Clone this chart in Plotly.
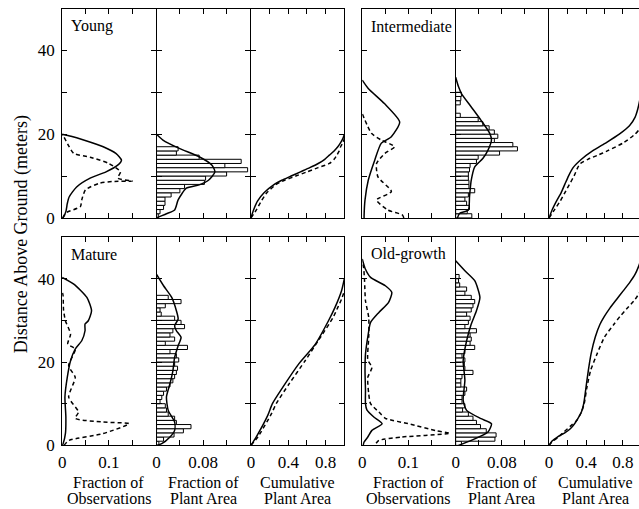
import plotly.graph_objects as go

# ---------------- DATA ----------------
# Young stand
young_obs_solid_h = [0, 0.3, 1.5, 3.4, 5, 7.4, 9.5, 11, 12.6, 13.8, 15.4, 17, 18.6, 19.5, 20]
young_obs_solid = [0, 0.003, 0.008, 0.011, 0.015, 0.031, 0.06, 0.094, 0.119, 0.127, 0.115, 0.088, 0.046, 0.019, 0]
young_obs_dash_h = [0, 1.2, 2.7, 4.3, 6.7, 8.3, 8.7, 8.8, 9.5, 11, 13, 14.5, 15.4, 17, 19.3, 20]
young_obs_dash = [0.002, 0.008, 0.039, 0.042, 0.05, 0.08, 0.108, 0.15, 0.119, 0.125, 0.1, 0.06, 0.025, 0.015, 0.004, 0]
young_area_bins = [0.003, 0.006, 0.012, 0.0145, 0.0145, 0.025, 0.04, 0.048, 0.082, 0.084, 0.12, 0.156, 0.117, 0.145, 0.073, 0.034, 0.037]
young_area_curve_h = [0, 0.2, 1.0, 1.9, 4.3, 7.1, 7.9, 9, 11, 12.6, 14.6, 16.6, 18.6, 20]
young_area_curve = [0, 0.003, 0.017, 0.031, 0.037, 0.051, 0.073, 0.089, 0.1, 0.095, 0.073, 0.039, 0.011, 0]
young_cum_solid_h = [0, 2, 4, 6, 8, 9, 10, 11, 12, 13, 14, 15, 16, 17, 18, 19, 20]
young_cum_solid = [0, 0.03, 0.07, 0.14, 0.25, 0.33, 0.43, 0.53, 0.63, 0.72, 0.79, 0.84, 0.89, 0.93, 0.96, 0.985, 1.0]
young_cum_dash_h = [0, 2, 4, 6, 8, 9, 10, 11, 12, 13, 14, 15, 16, 17, 18, 19]
young_cum_dash = [0, 0.06, 0.11, 0.17, 0.27, 0.36, 0.48, 0.6, 0.72, 0.84, 0.89, 0.92, 0.945, 0.96, 0.985, 1.0]

# Intermediate stand
inter_obs_solid_h = [0, 0.5, 4.3, 9, 13.8, 17.8, 19.4, 22.9, 27.3, 30.9, 32.9]
inter_obs_solid = [0.004, 0.004, 0.006, 0.013, 0.027, 0.041, 0.063, 0.081, 0.048, 0.013, 0]
inter_obs_dash_h = [0, 0.7, 1.9, 4.3, 6.3, 9.8, 13, 15.4, 17, 18.6, 20.2, 24.9]
inter_obs_dash = [0.09, 0.087, 0.055, 0.031, 0.063, 0.034, 0.031, 0.049, 0.07, 0.041, 0.02, 0]
inter_area_bins = [0.028, 0.02, 0.024, 0.019, 0.016, 0.022, 0.033, 0.023, 0.023, 0.022,
                   0.022, 0.024, 0.025, 0.036, 0.039, 0.076, 0.107, 0.099, 0.067, 0.073,
                   0.067, 0.058, 0.047, 0.039, 0.008, 0, 0, 0.008, 0.009, 0.01]
inter_area_curve_h = [0, 1.1, 1.9, 5.1, 9, 12.2, 14.2, 16.2, 18.6, 20.2, 23.3, 26.5, 29.7, 31.3, 33.6]
inter_area_curve = [0.003, 0.007, 0.022, 0.024, 0.027, 0.033, 0.047, 0.056, 0.062, 0.059, 0.044, 0.027, 0.01, 0.005, 0]
inter_cum_solid_h = [0, 2, 4, 6, 8, 10, 12, 14, 16, 18, 20, 22, 24, 26, 28, 30, 33]
inter_cum_solid = [0, 0.035, 0.08, 0.13, 0.17, 0.21, 0.26, 0.35, 0.47, 0.62, 0.76, 0.87, 0.93, 0.96, 0.98, 0.995, 1.0]
inter_cum_dash_h = [0, 2, 4, 6, 8, 10, 12, 13, 14, 15, 16, 18, 20, 21, 22, 24]
inter_cum_dash = [0, 0.06, 0.12, 0.17, 0.22, 0.27, 0.31, 0.34, 0.42, 0.53, 0.63, 0.81, 0.93, 0.97, 0.99, 1.0]

# Mature stand
mature_obs_solid_h = [0, 0.4, 2.8, 6.8, 11.6, 16.3, 20.3, 23.1, 25.1, 27.5, 29.1, 29.9, 32.3, 35.5, 38.7, 40.3]
mature_obs_solid = [0, 0.002, 0.007, 0.008, 0.006, 0.011, 0.018, 0.028, 0.042, 0.049, 0.049, 0.056, 0.063, 0.053, 0.025, 0]
mature_obs_dash_h = [0, 1.2, 2.8, 5.2, 5.6, 6.5, 8, 11.6, 16.3, 19.1, 23.1, 24.3, 26.7, 29.9, 32.5, 35.9, 37]
mature_obs_dash = [0.004, 0.015, 0.087, 0.143, 0.087, 0.028, 0.035, 0.014, 0.028, 0.014, 0.028, 0.012, 0.018, 0.007, 0.003, 0.002, 0]
mature_area_bins = [0.004, 0.012, 0.03, 0.046, 0.059, 0.034, 0.031, 0.02, 0.017, 0.015,
                    0.006, 0.009, 0.012, 0.017, 0.023, 0.028, 0.031, 0.034, 0.036, 0.031,
                    0.038, 0.034, 0.023, 0.053, 0.015, 0.031, 0.023, 0.028, 0.048, 0.042,
                    0.031, 0.008, 0.006, 0.015, 0.042, 0.02]
mature_area_curve_h = [0, 0.4, 2, 3.6, 5.6, 8.4, 11.6, 14.8, 17.9, 21.1, 23.9, 25.9, 27.5, 28.7, 30.3, 32.3, 35.5, 38.3, 41]
mature_area_curve = [0, 0.009, 0.023, 0.031, 0.031, 0.02, 0.017, 0.023, 0.028, 0.031, 0.037, 0.042, 0.034, 0.031, 0.037, 0.034, 0.026, 0.012, 0]
mature_cum_solid_h = [0, 2, 7.2, 10, 13.9, 19.5, 24.3, 29.9, 33.1, 37.1, 40]
mature_cum_solid = [0, 0.056, 0.18, 0.23, 0.34, 0.51, 0.69, 0.83, 0.9, 0.97, 1.0]
mature_cum_dash_h = [0, 2, 7.6, 10, 14.8, 20.3, 25.1, 30.7, 33.1, 35.1, 37]
mature_cum_dash = [0, 0.074, 0.22, 0.27, 0.41, 0.58, 0.72, 0.88, 0.93, 0.97, 1.0]

# Old-growth stand
old_obs_solid_h = [0, 0.8, 2, 3.6, 5.2, 6.8, 8.5, 10, 13.2, 17.9, 21.9, 26.7, 29.5, 31.9, 34.3, 36.7, 38.3, 40.3, 42.5, 44.7]
old_obs_solid = [0.002, 0.004, 0.012, 0.021, 0.043, 0.025, 0.01, 0.007, 0.007, 0.006, 0.007, 0.013, 0.018, 0.036, 0.057, 0.064, 0.05, 0.018, 0.006, 0]
old_obs_dash_h = [0.5, 1.2, 2, 2.9, 3.5, 5.2, 6.5, 8, 10, 12.4, 16.3, 18.7, 20.5, 25.9, 30.7, 34.7, 39.5, 42.6, 44]
old_obs_dash = [0.03, 0.036, 0.085, 0.19, 0.16, 0.1, 0.05, 0.036, 0.018, 0.014, 0.012, 0.021, 0.012, 0.014, 0.014, 0.007, 0.005, 0.003, 0]
old_area_bins = [0.01, 0.068, 0.07, 0.053, 0.043, 0.036, 0.03, 0.022, 0.012, 0.016,
                 0.011, 0.011, 0.016, 0.019, 0.009, 0.009, 0.011, 0.03, 0.016, 0.015,
                 0.016, 0.011, 0.016, 0.033, 0.025, 0.027, 0.025, 0.036, 0.016, 0.022,
                 0.025, 0.019, 0.027, 0.03, 0.033, 0.027, 0.016, 0.019, 0.007, 0.005, 0.006]
old_area_curve_h = [0, 1.2, 3.2, 5.2, 6.4, 8.4, 10.8, 15.6, 20.3, 25.1, 29.1, 32.3, 35.5, 39.5, 41.9, 44.3]
old_area_curve = [0.005, 0.027, 0.056, 0.062, 0.044, 0.019, 0.013, 0.016, 0.013, 0.019, 0.027, 0.036, 0.042, 0.033, 0.016, 0]
old_cum_solid_h = [0, 1, 2, 3, 4, 5, 6, 8, 10, 14, 18, 22, 26, 29, 31, 33, 35, 37, 39, 41, 43, 45]
old_cum_solid = [0, 0.03, 0.09, 0.17, 0.23, 0.27, 0.3, 0.35, 0.375, 0.4, 0.425, 0.455, 0.5, 0.55, 0.6, 0.66, 0.73, 0.8, 0.87, 0.93, 0.97, 1.0]
old_cum_dash_h = [0, 1, 2, 3, 4, 5, 6, 8, 10, 14, 18, 22, 26, 29, 31, 33, 35, 37]
old_cum_dash = [0, 0.04, 0.1, 0.15, 0.2, 0.25, 0.3, 0.35, 0.38, 0.41, 0.45, 0.52, 0.6, 0.7, 0.77, 0.85, 0.93, 0.99]

stand_labels = ["Young", "Intermediate", "Mature", "Old-growth"]

obs_tickvals = [0, 0.05, 0.1, 0.15]
obs_ticktext = ["0", "", "0.1", ""]
area_tickvals = [0, 0.04, 0.08, 0.12]
area_ticktext = ["0", "", "0.08", ""]
cum_tickvals = [0, 0.2, 0.4, 0.6, 0.8]
cum_ticktext = ["0", "", "0.4", "", "0.8"]
height_tickvals = [0, 10, 20, 30, 40]
height_ticktext = ["0", "", "20", "", "40"]

x_titles = [("Fraction of", "Observations"), ("Fraction of", "Plant Area"), ("Cumulative", "Plant Area")]
y_title = "Distance Above Ground (meters)"

# ---------------- LAYOUT ----------------
W, H = 639, 509          # reference picture size
FIG_H = 520              # captured page height (picture is resized to 509)
FONT = "Liberation Serif, Times New Roman, serif"

group_x = [[58, 153, 248, 343], [360, 454, 548, 642]]
row_y = [(8, 218), (236, 445)]
base_ranges = [0.2, 0.16, 1.0]


def px_x(v):
    return v / W


def px_y(v):
    return 1 - v / H


stands = [
    (young_obs_solid_h, young_obs_solid, young_obs_dash_h, young_obs_dash,
     young_area_bins, young_area_curve_h, young_area_curve,
     young_cum_solid_h, young_cum_solid, young_cum_dash_h, young_cum_dash),
    (inter_obs_solid_h, inter_obs_solid, inter_obs_dash_h, inter_obs_dash,
     inter_area_bins, inter_area_curve_h, inter_area_curve,
     inter_cum_solid_h, inter_cum_solid, inter_cum_dash_h, inter_cum_dash),
    (mature_obs_solid_h, mature_obs_solid, mature_obs_dash_h, mature_obs_dash,
     mature_area_bins, mature_area_curve_h, mature_area_curve,
     mature_cum_solid_h, mature_cum_solid, mature_cum_dash_h, mature_cum_dash),
    (old_obs_solid_h, old_obs_solid, old_obs_dash_h, old_obs_dash,
     old_area_bins, old_area_curve_h, old_area_curve,
     old_cum_solid_h, old_cum_solid, old_cum_dash_h, old_cum_dash),
]

fig = go.Figure()
layout = {}
annotations = []

line_solid = dict(color="black", width=1.5, shape="spline", smoothing=0.6)
line_dash = dict(color="black", width=1.5, dash="4px,3px", shape="spline", smoothing=0.6)

idx = 0
for s, st in enumerate(stands):
    (osh, os_, odh, od, bins, ach, ac, csh, cs, cdh, cd) = st
    name = stand_labels[s]
    row = s // 2
    grp = s % 2
    ytop, ybot = row_y[row]
    ydom = [px_y(ybot - 0.5), px_y(ytop + 0.5)]
    xs = group_x[grp]
    for p in range(3):
        idx += 1
        xn = "x" if idx == 1 else f"x{idx}"
        yn = "y" if idx == 1 else f"y{idx}"
        xl = "xaxis" if idx == 1 else f"xaxis{idx}"
        yl = "yaxis" if idx == 1 else f"yaxis{idx}"
        x0, x1 = xs[p] + 0.5, xs[p + 1] - 0.5
        rng = base_ranges[p]
        last = (x1 > W)
        x1c = min(x1, W)
        rng_c = rng * (x1c - x0) / (x1 - x0)
        tv, tt = [(obs_tickvals, obs_ticktext), (area_tickvals, area_ticktext),
                  (cum_tickvals, cum_ticktext)][p]
        layout[xl] = dict(
            domain=[px_x(x0), min(1.0, px_x(x1c))], range=[0, rng_c], anchor=yn,
            tickmode="array", tickvals=tv, ticktext=tt,
            showticklabels=(row == 1),
            ticks="inside", ticklen=5, tickwidth=1, tickcolor="black",
            showline=True, linecolor="black", linewidth=1, mirror="ticks",
            showgrid=False, zeroline=False,
            tickfont=dict(family=FONT, size=17, color="black"),
            ticklabelstandoff=1,
        )
        layout[yl] = dict(
            domain=ydom, range=[0, 50], anchor=xn,
            tickmode="array", tickvals=height_tickvals, ticktext=height_ticktext,
            showticklabels=(grp == 0 and p == 0),
            ticks="inside", ticklen=5, tickwidth=1, tickcolor="black",
            showline=True, linecolor="black", linewidth=1,
            mirror=(False if last else "ticks"),
            showgrid=False, zeroline=False,
            tickfont=dict(family=FONT, size=17, color="black"),
            ticklabelstandoff=3,
        )
        if p == 0:
            fig.add_trace(go.Scatter(x=os_, y=osh, mode="lines", line=line_solid,
                                     xaxis=xn, yaxis=yn, showlegend=False, hoverinfo="skip"))
            fig.add_trace(go.Scatter(x=od, y=odh, mode="lines", line=line_dash,
                                     xaxis=xn, yaxis=yn, showlegend=False, hoverinfo="skip"))
            annotations.append(dict(text=name, xref="paper", yref="paper",
                                    x=px_x(xs[p] + 7), y=px_y(ytop + 18),
                                    xanchor="left", yanchor="middle", showarrow=False,
                                    font=dict(family=FONT, size=16, color="black")))
        elif p == 1:
            fig.add_trace(go.Bar(x=bins, y=[k + 0.5 for k in range(len(bins))],
                                 orientation="h", width=1.0,
                                 marker=dict(color="white", line=dict(color="black", width=1)),
                                 xaxis=xn, yaxis=yn, showlegend=False, hoverinfo="skip"))
            fig.add_trace(go.Scatter(x=ac, y=ach, mode="lines", line=line_solid,
                                     xaxis=xn, yaxis=yn, showlegend=False, hoverinfo="skip"))
        else:
            fig.add_trace(go.Scatter(x=cs, y=csh, mode="lines", line=line_solid,
                                     xaxis=xn, yaxis=yn, showlegend=False, hoverinfo="skip"))
            fig.add_trace(go.Scatter(x=cd, y=cdh, mode="lines", line=line_dash,
                                     xaxis=xn, yaxis=yn, showlegend=False, hoverinfo="skip"))
        if row == 1:
            cx = px_x((xs[p] + xs[p + 1]) / 2)
            l1, l2 = x_titles[p]
            annotations.append(dict(text=l1, xref="paper", yref="paper", x=cx, y=px_y(482),
                                    xanchor="center", yanchor="middle", showarrow=False,
                                    font=dict(family=FONT, size=16, color="black")))
            annotations.append(dict(text=l2, xref="paper", yref="paper", x=cx, y=px_y(498),
                                    xanchor="center", yanchor="middle", showarrow=False,
                                    font=dict(family=FONT, size=16, color="black")))

annotations.append(dict(text=y_title, xref="paper", yref="paper", x=px_x(18), y=px_y(234),
                        xanchor="center", yanchor="middle", textangle=-90, showarrow=False,
                        font=dict(family=FONT, size=18, color="black")))

fig.update_layout(
    width=W, height=FIG_H, autosize=False,
    margin=dict(l=0, r=0, t=0, b=0),
    paper_bgcolor="white", plot_bgcolor="white",
    annotations=annotations, bargap=0,
    **layout,
)

# remove the default page margin so the figure starts at the window corner
fig.write_html(
    "out.html",
    config={"displayModeBar": False, "staticPlot": True},
    post_script="document.body.style.margin='0';document.body.style.overflow='hidden';"
                "document.documentElement.style.overflow='hidden';",
)
